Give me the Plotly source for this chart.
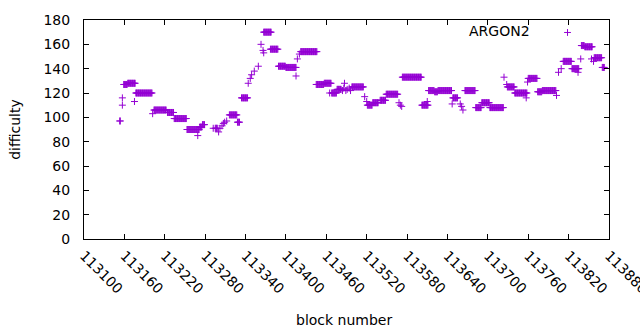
import plotly.graph_objects as go

# Runs of consecutive blocks sharing one difficulty value (start block, end block, value)
run_start = [113159, 113165, 113177, 113204, 113224, 113234, 113253, 113272, 113276, 113295,
             113316, 113328, 113334, 113367, 113377, 113389, 113400, 113422, 113445, 113457,
             113468, 113476, 113498, 113521, 113529, 113540, 113549, 113573, 113602, 113612,
             113621, 113626, 113648, 113666, 113682, 113691, 113703, 113729, 113740, 113760,
             113774, 113781, 113812, 113825, 113839, 113844, 113858, 113870]
run_end = [113164, 113176, 113201, 113222, 113233, 113252, 113271, 113275, 113279, 113298,
           113327, 113331, 113343, 113378, 113388, 113399, 113415, 113446, 113456, 113467,
           113475, 113482, 113515, 113528, 113537, 113548, 113566, 113601, 113611, 113620,
           113625, 113646, 113655, 113681, 113690, 113702, 113723, 113739, 113758, 113773,
           113780, 113801, 113824, 113835, 113843, 113855, 113869, 113873]
run_value = [127, 128, 120, 106, 104, 99, 90, 92, 94, 91,
             102, 96, 116, 170, 156, 142, 141, 154, 127, 128,
             120, 123, 125, 110, 112, 114, 119, 133, 110, 122,
             121, 122, 116, 122, 108, 112, 108, 125, 120, 132,
             121, 122, 146, 140, 159, 158, 149, 141]

# Isolated blocks
single_block = [113153, 113154, 113157, 113157, 113175, 113202, 113269, 113292, 113300, 113302,
                113305, 113307, 113309, 113312, 113344, 113347, 113349, 113353, 113359, 113363,
                113366, 113367, 113415, 113417, 113420, 113465, 113484, 113486, 113487, 113489,
                113491, 113494, 113496, 113517, 113520, 113568, 113570, 113572, 113610, 113647,
                113659, 113661, 113663, 113724, 113728, 113757, 113759, 113802, 113805, 113809,
                113834, 113838, 113854, 113857]
single_value = [97, 97, 110, 116, 113, 103, 85, 91, 88, 91,
                93, 95, 96, 97, 128, 132, 135, 138, 142, 160,
                155, 153, 134, 148, 152, 120, 122, 124, 128, 122,
                123, 124, 122, 117, 113, 112, 110, 109, 113, 111,
                111, 109, 106, 133, 127, 116, 129, 118, 137, 140,
                137, 148, 148, 146]

x_ticks = list(range(113100, 113881, 60))

# Build per-block arrays from the runs and singles
blocks, diffs = [], []
for s, e, v in zip(run_start, run_end, run_value):
    for b in range(s, e + 1):
        blocks.append(b)
        diffs.append(v)
blocks += single_block
diffs += single_value

COLOR = '#9400D3'
FONT = 'DejaVu Sans'
FS = 14

fig = go.Figure()
fig.add_trace(go.Scatter(
    x=blocks, y=diffs, mode='markers', name='ARGON2', showlegend=False,
    marker=dict(symbol='cross-thin', size=5, color=COLOR,
                line=dict(width=1, color=COLOR)),
))

fig.update_layout(
    width=640, height=330,
    margin=dict(l=84, r=31, t=20, b=91, pad=0),
    paper_bgcolor='white', plot_bgcolor='white',
    font=dict(family=FONT, size=FS, color='black'),
    xaxis=dict(range=[113100, 113880], tickmode='array', tickvals=x_ticks,
               ticktext=[str(t) for t in x_ticks], tickangle=45,
               ticks='inside', ticklen=5, tickcolor='black',
               showline=True, linecolor='black', linewidth=1, mirror='ticks',
               showgrid=False, zeroline=False, ticklabelstandoff=2,
               ticklabeloverflow='allow', automargin=False),
    yaxis=dict(range=[0, 180], tick0=0, dtick=20,
               ticks='inside', ticklen=5, tickcolor='black',
               showline=True, linecolor='black', linewidth=1, mirror='ticks',
               showgrid=False, zeroline=False, ticklabelstandoff=10,
               automargin=False),
    annotations=[
        dict(text='block number', xref='paper', yref='paper', x=0.4952, y=-0.37,
             xanchor='center', yanchor='middle', showarrow=False,
             font=dict(family=FONT, size=FS)),
        dict(text='difficulty', xref='paper', yref='paper', x=-0.132, y=0.502,
             xanchor='center', yanchor='middle', showarrow=False, textangle=-90,
             font=dict(family=FONT, size=FS)),
        dict(text='ARGON2', xref='paper', yref='paper', x=0.8533, y=0.9475,
             xanchor='right', yanchor='middle', showarrow=False,
             font=dict(family=FONT, size=FS)),
    ],
    shapes=[
        dict(type='line', xref='paper', yref='paper', x0=0.9145, x1=0.9275,
             y0=0.943, y1=0.943, line=dict(color=COLOR, width=1)),
        dict(type='line', xref='paper', yref='paper', x0=0.921, x1=0.921,
             y0=0.9275, y1=0.9585, line=dict(color=COLOR, width=1)),
    ],
)

fig.write_html('out.html', config={'displayModeBar': False},
               post_script="document.body.style.margin='0';document.body.style.overflow='hidden';")
